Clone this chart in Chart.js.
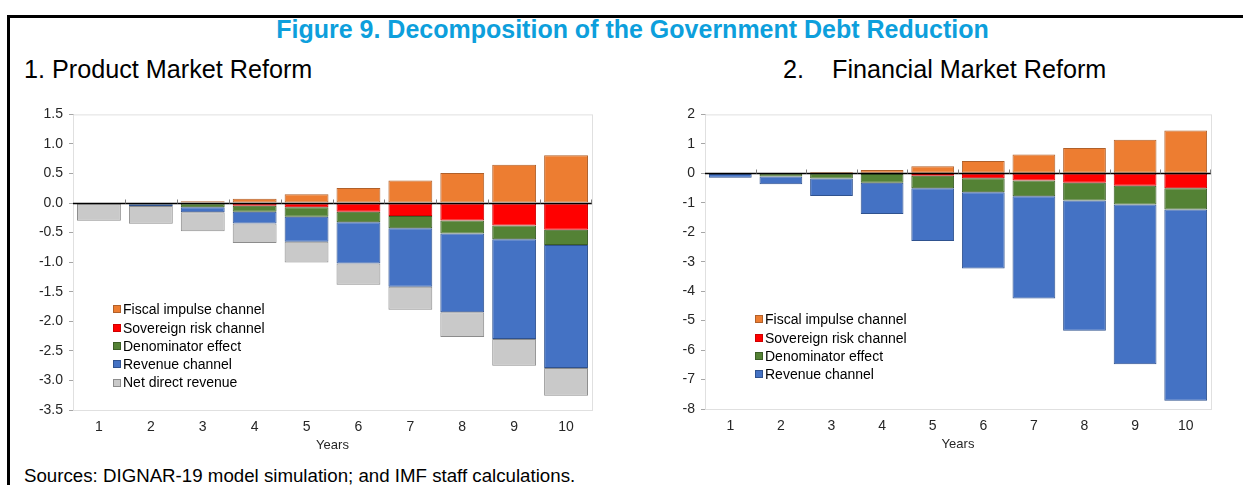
<!DOCTYPE html>
<html>
<head>
<meta charset="UTF-8">
<title>Figure 9</title>
<style>
body{
	margin: 0;
	width: 1243px;
	height: 485px;
	background-color: white;
	overflow: hidden;
	position: relative;
	font-family: "Liberation Sans", Arial, sans-serif;
}
.frame{
	position: absolute;
	left: 7px; top: 15px;
	width: 1300px; height: 500px;
	border-top: 3px solid #000;
	border-left: 3px solid #000;
}
.fig-title{
	position: absolute;
	left: 0; width: 1265px; top: 17px;
	text-align: center;
	font-weight: bold;
	font-size: 25px; line-height: 25px;
	color: #0d9fdc;
}
.sub{
	position: absolute;
	font-size: 25.2px; line-height: 25px;
	color: #000;
	white-space: pre;
}
.src{
	position: absolute;
	left: 24px; top: 466px;
	font-size: 18.7px; line-height: 19px;
	color: #000;
}
canvas{ position: absolute; }
</style>
</head>
<body>
	<div class="frame"></div>
	<div class="fig-title">Figure 9. Decomposition of the Government Debt Reduction</div>
	<div class="sub" style="left: 24px; top: 57px;">1. Product Market Reform</div>
	<div class="sub" style="left: 783px; top: 57px;">2.    Financial Market Reform</div>

	<canvas id="productChart" width="590" height="360" style="left: 10px; top: 100px;"></canvas>
	<canvas id="financialChart" width="578" height="360" style="left: 642px; top: 100px;"></canvas>

	<div class="src">Sources: DIGNAR-19 model simulation; and IMF staff calculations.</div>

<script src="https://cdn.jsdelivr.net/npm/chart.js"></script>
<script>
// categories
const years = ['1','2','3','4','5','6','7','8','9','10'];

// 1. Product market reform (percent of GDP)
const pmFiscal      = [0, 0, 0.03, 0.075, 0.15, 0.255, 0.38, 0.51, 0.65, 0.81];
const pmSovereign   = [0, 0, -0.005, -0.045, -0.07, -0.147, -0.22, -0.295, -0.38, -0.45];
const pmDenominator = [-0.005, -0.02, -0.065, -0.1, -0.16, -0.176, -0.204, -0.22, -0.23, -0.26];
const pmRevenue     = [-0.005, -0.03, -0.085, -0.2, -0.425, -0.70, -0.99, -1.33, -1.69, -2.08];
const pmNetDirect   = [-0.29, -0.30, -0.32, -0.33, -0.35, -0.357, -0.39, -0.42, -0.45, -0.47];

// 2. Financial market reform
const fmFiscal      = [0, 0, 0.045, 0.11, 0.24, 0.42, 0.64, 0.86, 1.14, 1.45];
const fmSovereign   = [0, 0, 0, -0.02, -0.08, -0.17, -0.24, -0.32, -0.42, -0.51];
const fmDenominator = [-0.02, -0.11, -0.18, -0.3, -0.43, -0.47, -0.54, -0.6, -0.64, -0.72];
const fmRevenue     = [-0.13, -0.26, -0.59, -1.06, -1.79, -2.59, -3.47, -4.42, -5.42, -6.49];

// y axis ticks
const pmTicks = {min: -3.5, max: 1.5, step: 0.5};
const fmTicks = {min: -8, max: 2, step: 1};

const FONT = '"Liberation Sans", Arial, sans-serif';

const series = {
	fiscal:   {label: 'Fiscal impulse channel', bg: '#ed7d31', bd: '#b0602a'},
	sovereign:{label: 'Sovereign risk channel', bg: '#ff0000', bd: '#d00000'},
	denom:    {label: 'Denominator effect',     bg: '#548235', bd: '#3b5e25'},
	revenue:  {label: 'Revenue channel',        bg: '#4472c4', bd: '#2f528f'},
	netDirect:{label: 'Net direct revenue',     bg: '#c9c9c9', bd: '#8c8c8c'}
};

function ds(key, data){
	return {
		label: series[key].label,
		data: data,
		backgroundColor: series[key].bg,
		borderColor: series[key].bd,
		borderWidth: 1,
		borderSkipped: false,
		barPercentage: 0.845,
		categoryPercentage: 1
	};
}

// plot border, zero line with small ticks, legend inside the plot
const plotFrame = {
	id: 'plotFrame',
	beforeDatasetsDraw(chart){
		const a = chart.chartArea, ctx = chart.ctx;
		ctx.save();
		ctx.strokeStyle = '#e0e0e0';
		ctx.lineWidth = 1;
		ctx.strokeRect(a.left + 0.5, a.top + 0.5, a.width, a.height);
		ctx.restore();
	},
	afterDatasetsDraw(chart, args, opts){
		const a = chart.chartArea, ctx = chart.ctx;
		const x = chart.scales.x, y = chart.scales.y;
		const y0 = Math.round(y.getPixelForValue(0)) + 0.5;
		ctx.save();
		ctx.strokeStyle = '#000';
		ctx.lineWidth = 1.5;
		ctx.beginPath();
		ctx.moveTo(a.left, y0);
		ctx.lineTo(a.right, y0);
		ctx.stroke();
		ctx.lineWidth = 1;
		ctx.strokeStyle = '#7f7f7f';
		ctx.beginPath();
		for (let i = 1; i <= years.length; i++) {
			const bx = Math.round((x.getPixelForValue(i - 1) + x.getPixelForValue(Math.min(i, years.length - 1)) ) / 2) + 0.5;
			const px = (i == years.length) ? Math.round(a.right) - 0.5 : bx;
			ctx.moveTo(px, y0 - 4);
			ctx.lineTo(px, y0);
		}
		ctx.stroke();

		// legend
		ctx.font = '14px ' + FONT;
		ctx.textBaseline = 'middle';
		ctx.textAlign = 'left';
		chart.data.datasets.forEach(function(d, i){
			const lx = a.left + opts.legendX;
			const ly = a.top + opts.legendY + i * 18.3;
			ctx.fillStyle = d.backgroundColor;
			ctx.fillRect(lx, Math.round(ly - 4) , 8, 8);
			ctx.strokeStyle = d.borderColor;
			ctx.strokeRect(lx + 0.5, Math.round(ly - 4) + 0.5, 7, 7);
			ctx.fillStyle = '#000';
			ctx.fillText(d.label, lx + 10, ly + 1);
		});
		ctx.restore();
	}
};

function makeChart(id, datasets, t, fmt, legendX, legendY, pad){
	return new Chart(document.getElementById(id), {
		type: 'bar',
		data: {labels: years, datasets: datasets},
		plugins: [plotFrame],
		options: {
			responsive: false,
			animation: false,
			layout: {padding: pad},
			plugins: {
				legend: {display: false},
				tooltip: {enabled: false},
				plotFrame: {legendX: legendX, legendY: legendY}
			},
			scales: {
				x: {
					stacked: true,
					grid: {display: false, drawTicks: false},
					border: {display: false},
					ticks: {color: '#262626', font: {family: FONT, size: 14}, padding: 9},
					title: {display: true, text: 'Years', color: '#262626', font: {family: FONT, size: 13}, padding: {top: 0, bottom: 1}},
					afterFit: function(scale){ scale.height = 44; }
				},
				y: {
					stacked: true,
					min: t.min, max: t.max,
					grid: {drawOnChartArea: false, drawTicks: true, tickLength: 4, color: '#a6a6a6'},
					border: {display: true, color: '#a6a6a6'},
					ticks: {
						stepSize: t.step,
						color: '#262626',
						font: {family: FONT, size: 14},
						padding: 6,
						callback: fmt
					},
					afterFit: function(scale){ scale.width = 63; }
				}
			}
		}
	});
}

makeChart('productChart', [
	ds('fiscal', pmFiscal),
	ds('sovereign', pmSovereign),
	ds('denom', pmDenominator),
	ds('revenue', pmRevenue),
	ds('netDirect', pmNetDirect)
], pmTicks, function(v){ return v.toFixed(1); }, 40, 195, {top: 14, right: 8, bottom: 6, left: 0});

makeChart('financialChart', [
	ds('fiscal', fmFiscal),
	ds('sovereign', fmSovereign),
	ds('denom', fmDenominator),
	ds('revenue', fmRevenue)
], fmTicks, function(v){ return v; }, 50, 205, {top: 13, right: 9, bottom: 7, left: 0});
</script>
</body>
</html>
